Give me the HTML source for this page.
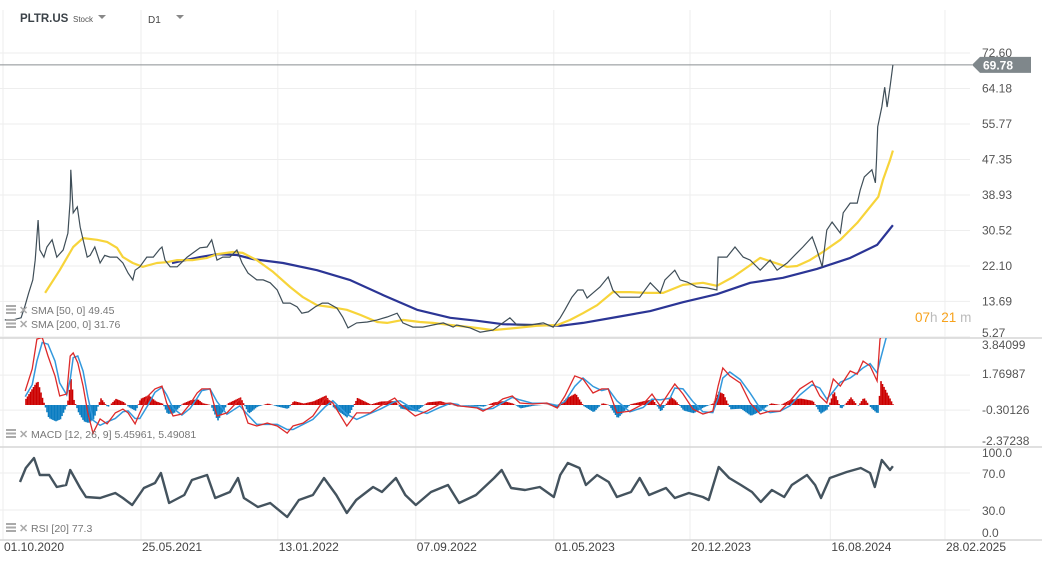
<!DOCTYPE html>
<html><head><meta charset="utf-8"><style>
html,body{margin:0;padding:0;background:#fff;}
body{width:1042px;height:563px;overflow:hidden;font-family:"Liberation Sans",sans-serif;}
svg text{font-family:"Liberation Sans",sans-serif;}
</style></head><body>
<svg id="chart" width="1042" height="563" viewBox="0 0 1042 563" xmlns="http://www.w3.org/2000/svg">
<g id="grid"></g>
<g id="header">
  <text x="20" y="22" font-size="11.5" font-weight="bold" fill="#3b4248">PLTR.US</text>
  <text x="73" y="22" font-size="8" fill="#555">Stock</text>
  <path d="M98 15 L106 15 L102 19 Z" fill="#888"/>
  <text x="148" y="23" font-size="10" fill="#444">D1</text>
  <path d="M176 15 L184 15 L180 19 Z" fill="#888"/>
</g>
<g id="main"></g>
<g id="macd"></g>
<g id="rsi"></g>
<g id="axes"></g>
</svg>
<script>
// ---- data (day offsets from 01.10.2020) ----
const priceDays=[3,17,31,38,44,51,55,58,60,63,70,75,84,92,103,111,115,116,120,127,132,137,144,149,157,166,174,183,195,205,214,222,226,234,246,257,268,272,277,286,298,315,325,337,349,357,366,376,388,400,409,419,434,445,457,469,479,491,503,511,522,534,546,556,571,581,590,605,623,640,657,674,684,701,718,735,753,770,776,799,816,838,855,867,879,901,924,941,953,961,973,983,992,999,1009,1021,1035,1043,1055,1072,1089,1107,1124,1132,1149,1158,1170,1187,1204,1221,1223,1238,1252,1266,1278,1295,1312,1324,1341,1358,1368,1384,1392,1401,1409,1418,1432,1437,1449,1461,1466,1473,1486,1492,1494,1496,1503,1508,1512,1517,1522];
const priceVals=[9.3,9.3,9.8,12.8,15.7,18.8,23.5,29.0,33.0,25.9,24.2,26.6,28.3,24.2,25.9,29.9,37.7,44.9,34.7,36.1,31.3,28.3,24.2,24.6,26.6,22.8,24.6,24.2,24.2,22.8,20.4,18.8,21.1,21.9,24.2,24.2,26.1,26.6,23.5,21.9,21.9,24.2,25.2,26.4,26.6,28.3,23.5,24.2,24.2,25.9,22.8,20.4,18.8,18.8,18.1,16.4,13.3,13.3,12.4,10.9,11.2,12.4,13.3,13.3,12.1,10.0,7.4,8.6,8.8,9.3,10.0,10.9,8.6,7.6,7.6,8.1,8.6,7.6,8.1,7.4,6.4,6.9,8.6,9.8,8.1,8.1,8.6,7.6,9.8,11.7,14.7,16.4,16.4,14.5,15.7,17.1,19.5,16.4,14.7,14.7,14.7,18.1,15.7,18.8,21.1,18.8,18.3,17.1,16.9,16.4,24.2,24.2,26.6,24.2,23.5,21.1,23.5,21.1,22.8,25.2,26.6,29.0,25.9,21.9,30.6,32.5,29.9,34.7,37.0,37.0,40.1,43.2,44.9,41.8,47.2,55.1,59.8,64.5,59.8,64.5,69.78];
const sma50Days=[72,97,120,137,161,178,195,205,222,239,263,280,298,325,349,366,393,410,434,462,491,513,537,559,588,611,640,657,684,713,735,765,799,838,879,913,948,970,992,1016,1043,1072,1101,1129,1163,1197,1221,1249,1278,1295,1317,1341,1358,1380,1402,1432,1461,1483,1497,1505,1517,1522];
const sma50Vals=[15.7,21.1,26.6,28.7,28.3,27.8,26.4,24.2,22.8,21.9,22.8,23.0,23.5,23.5,24.0,24.9,25.4,25.2,23.5,20.7,17.1,14.7,12.8,12.4,11.7,10.5,8.8,8.6,9.3,8.8,8.6,8.1,7.6,6.9,7.4,7.9,8.1,9.3,10.9,12.8,15.9,15.9,15.7,15.7,17.6,18.1,17.4,19.5,22.3,24.0,23.0,21.9,22.1,23.5,25.4,28.3,32.3,36.1,38.5,42.5,47.2,49.45];
const sma200Days=[289,337,366,400,428,479,537,593,650,708,765,811,855,907,953,992,1050,1107,1163,1221,1278,1334,1392,1449,1495,1522];
const sma200Vals=[22.8,24.2,24.9,24.7,23.7,22.8,21.1,18.8,15.2,11.7,9.8,9.1,8.3,8.1,7.9,8.6,10.0,11.4,13.5,15.4,18.1,19.3,21.4,24.0,27.1,31.76];
const macdDays=[38,50,58,67,77,89,97,109,115,120,128,137,145,154,166,178,192,205,214,226,234,248,260,272,280,291,306,320,332,340,354,366,383,405,419,434,452,469,486,496,513,530,551,564,588,605,628,645,670,679,705,725,747,765,778,782,811,821,838,855,871,884,906,930,948,961,978,992,1009,1024,1035,1050,1072,1095,1110,1124,1141,1149,1163,1180,1197,1214,1223,1231,1243,1261,1278,1295,1312,1329,1346,1363,1384,1397,1409,1420,1432,1449,1461,1471,1483,1495,1500,1522];
const macdVals=[0.83,2.13,3.9,4.0,2.9,1.72,0.53,0.65,2.9,3.08,2.49,1.12,-0.47,-1.66,-0.83,-1.12,-0.47,-0.24,-0.47,-1.12,-0.47,0.53,0.95,1.12,0.12,-0.65,-0.53,0.06,0.71,0.95,0.95,-0.65,-0.47,0.36,-1.07,-1.24,-1.07,-1.24,-1.66,-1.24,-1.07,-0.65,0.41,0.12,-1.24,-0.47,-0.47,-0.06,0.41,0.06,-0.65,-0.36,0.06,0.12,-0.06,-0.06,-0.18,-0.36,-0.06,0.36,0.53,0.12,0.06,0.12,-0.18,0.53,1.72,1.54,0.71,0.95,0.95,-0.47,-0.36,0.06,0.65,-0.06,0.83,1.24,0.65,-0.24,-0.53,-0.36,1.12,2.19,1.72,1.30,0.12,-0.53,-0.36,-0.36,0.24,0.95,1.42,0.53,0.12,1.54,1.12,2.01,1.83,2.6,2.31,1.42,3.9,5.46];
const signalVals=[0.5,1.2,2.6,3.7,3.6,2.6,1.3,0.6,1.5,2.8,2.9,2.0,0.5,-0.9,-1.2,-1.0,-0.8,-0.4,-0.35,-0.8,-0.8,0.0,0.75,1.05,0.6,-0.2,-0.6,-0.2,0.4,0.85,0.95,0.2,-0.55,-0.05,-0.6,-1.15,-1.15,-1.15,-1.45,-1.45,-1.15,-0.85,-0.1,0.25,-0.55,-0.85,-0.5,-0.25,0.2,0.25,-0.3,-0.5,-0.15,0.1,0.03,-0.06,-0.12,-0.27,-0.2,0.15,0.45,0.3,0.1,0.1,-0.03,0.2,1.1,1.6,1.1,0.85,0.95,0.25,-0.4,-0.15,0.35,0.3,0.4,1.0,0.95,0.2,-0.4,-0.45,0.4,1.6,1.95,1.5,0.7,-0.2,-0.45,-0.36,-0.05,0.6,1.2,1.0,0.35,0.8,1.35,1.6,1.9,2.2,2.45,1.9,2.6,5.49];
const rsiDays=[29,39,53,63,79,92,108,115,132,142,166,192,205,221,241,260,270,284,310,323,349,363,388,402,412,436,457,486,506,530,549,570,588,604,633,648,672,688,706,732,761,780,809,840,853,869,893,918,942,953,966,986,997,1016,1036,1050,1074,1089,1105,1134,1149,1173,1197,1207,1224,1242,1262,1281,1296,1315,1336,1349,1375,1389,1399,1414,1443,1467,1483,1491,1503,1517,1522];
const rsiVals=[60.3,75.4,86.2,67.8,67.8,54.9,57.0,73.2,53.8,44.1,43.0,48.4,43.0,35.4,53.8,59.2,70.0,37.6,46.2,62.4,67.8,43.0,49.5,64.6,43.0,33.2,37.6,22.4,40.8,46.2,64.6,46.2,26.8,40.8,54.9,49.5,64.6,46.2,35.4,49.5,57.0,37.6,46.2,64.6,73.2,53.8,51.6,54.9,44.1,67.8,80.8,75.4,57.0,67.8,60.3,44.1,49.5,64.6,46.2,53.8,43.0,48.4,44.1,40.8,76.5,64.6,57.0,49.5,38.7,51.6,44.1,57.0,67.8,57.0,43.0,64.6,71.1,75.4,70.0,54.9,84.1,73.2,77.3];
const priceTicks=["72.60","64.18","55.77","47.35","38.93","30.52","22.10","13.69","5.27"];
const macdTicks=["3.84099","1.76987","-0.30126","-2.37238"];
const rsiTicks=["100.0","70.0","30.0","0.0"];
const dateTicks=["01.10.2020","25.05.2021","13.01.2022","07.09.2022","01.05.2023","20.12.2023","16.08.2024","28.02.2025"];
const dateTickDays=[0,236,470,706,942,1175,1415,1611];

// ---- axis functions ----
const X=d=>3+d*0.5847;
const PY=v=>53+(72.6-v)*4.217;
const MY=v=>405-v*16.9;
const RY=v=>510-(v-30)*0.925;
const NS='http://www.w3.org/2000/svg';
function mk(tag,attrs,parent){const e=document.createElementNS(NS,tag);for(const k in attrs)e.setAttribute(k,attrs[k]);parent.appendChild(e);return e;}
function pts(days,vals,fy){return days.map((d,i)=>X(d).toFixed(1)+','+fy(vals[i]).toFixed(1)).join(' ');}
const grid=document.getElementById('grid'),main=document.getElementById('main'),macdG=document.getElementById('macd'),rsiG=document.getElementById('rsi'),axes=document.getElementById('axes');

// grid
dateTickDays.forEach(d=>{const l=mk('line',{x1:X(d),x2:X(d),y1:10,y2:540,stroke:'#eeeeee','stroke-width':1},grid);

});
priceTicks.forEach(t=>{const y=PY(parseFloat(t));const l=mk('line',{x1:0,x2:970,y1:y,y2:y,stroke:'#eeeeee'},grid);

});
[1.76987,-0.30126].forEach(v=>{const l=mk('line',{x1:0,x2:970,y1:MY(v),y2:MY(v),stroke:'#eeeeee'},grid);

});
[70,30].forEach(v=>{const l=mk('line',{x1:0,x2:970,y1:RY(v),y2:RY(v),stroke:'#eeeeee'},grid);

});
[338,447,540].forEach(y=>{const l=mk('line',{x1:0,x2:1042,y1:y,y2:y,stroke:'#d6d6d6','stroke-width':1.5},grid);

});

// clip paths
const defs=mk('defs',{},document.getElementById('chart'));
const c1=mk('clipPath',{id:'cm'},defs);mk('rect',{x:0,y:338,width:970,height:109},c1);

// price panel
const cur=priceVals[priceVals.length-1];
const cl=mk('line',{x1:0,x2:972,y1:PY(cur),y2:PY(cur),stroke:'#8a8f92','stroke-width':1},main);


const s200=mk('polyline',{points:pts(sma200Days,sma200Vals,PY),fill:'none',stroke:'#2b3595','stroke-width':2.2,'stroke-linejoin':'round'},main);


const s50=mk('polyline',{points:pts(sma50Days,sma50Vals,PY),fill:'none',stroke:'#f7d43a','stroke-width':2.2,'stroke-linejoin':'round'},main);


const pl=mk('polyline',{points:pts(priceDays,priceVals,PY),fill:'none',stroke:'#3f4e58','stroke-width':1.2,'stroke-linejoin':'miter'},main);


const tag=mk('path',{d:`M972 ${PY(cur)} L980 ${PY(cur)-8} L1031 ${PY(cur)-8} L1031 ${PY(cur)+8} L980 ${PY(cur)+8} Z`,fill:'#7f878b'},main);


const tt=mk('text',{x:983,y:PY(cur)+4.5,'font-size':12,'font-weight':'bold',fill:'#fff'},main);tt.textContent=cur.toFixed(2);



// MACD panel
const mg=mk('g',{'clip-path':'url(#cm)'},macdG);
for(let px=X(macdDays[0]);px<=X(macdDays[macdDays.length-1]);px+=1.5){
  const d=(px-3)/0.5847;let i=0;while(i<macdDays.length-2&&macdDays[i+1]<d)i++;
  const f=(d-macdDays[i])/(macdDays[i+1]-macdDays[i]);
  const m=macdVals[i]+f*(macdVals[i+1]-macdVals[i]);const s=signalVals[i]+f*(signalVals[i+1]-signalVals[i]);
  const h=(m-s)*1.1;const y0=MY(0),y1=MY(h);
  const b=mk('rect',{x:px,y:Math.min(y0,y1),width:1.6,height:Math.abs(y1-y0),fill:h>=0?'#cc0000':'#0a7cc1'},mg);
  
  
}
const sl=mk('polyline',{points:pts(macdDays,signalVals,MY),fill:'none',stroke:'#3399dd','stroke-width':1.5},mg);


const ml=mk('polyline',{points:pts(macdDays,macdVals,MY),fill:'none',stroke:'#dd2a2a','stroke-width':1.3},mg);



// RSI panel
const rl=mk('polyline',{points:pts(rsiDays,rsiVals,RY),fill:'none',stroke:'#44535e','stroke-width':2.4,'stroke-linejoin':'round'},rsiG);



// axis labels
function lbl(txt,x,y,size,fill,name,anchor){const t=mk('text',{x:x,y:y,'font-size':size,fill:fill,'text-anchor':anchor||'start'},axes);t.textContent=txt;

return t;}
priceTicks.forEach(t=>{const v=parseFloat(t);let y=PY(v)+4;if(v<6)y=337;lbl(t,982,y,12,'#555','price-tick-label');});
const mpos=[345,374,410,441];macdTicks.forEach((t,i)=>lbl(t,982,mpos[i]+4,12,'#555','macd-tick-label'));
const rpos=[453,474,511,533];rsiTicks.forEach((t,i)=>lbl(t,982,rpos[i]+4,12,'#555','rsi-tick-label'));
dateTickDays.forEach((d,i)=>lbl(dateTicks[i],X(d)+1,551,12,'#444','date-tick-label'));

// legends
function legend(txt,y,name){
  const g=mk('g',{},axes);
  
  
  mk('rect',{x:6,y:y-8,width:10,height:2,fill:'#aaa'},g);mk('rect',{x:6,y:y-4.5,width:10,height:2,fill:'#aaa'},g);mk('rect',{x:6,y:y-1,width:10,height:2,fill:'#aaa'},g);
  const t=mk('text',{x:19,y:y+1,'font-size':11,'font-weight':'bold',fill:'#aaa'},g);t.textContent='✕';
  const tx=mk('text',{x:31,y:y+1,'font-size':10.5,fill:'#777'},g);tx.textContent=txt;
}
legend('SMA  [50,  0]  49.45',313,'sma50-legend');
legend('SMA  [200,  0]  31.76',327,'sma200-legend');
legend('MACD  [12,  26,  9]  5.45961,   5.49081',437,'macd-legend');
legend('RSI  [20]  77.3',531,'rsi-legend');
const cd=mk('text',{x:915,y:322,'font-size':13.5},axes);


cd.innerHTML='<tspan fill="#f7a21b">07</tspan><tspan fill="#bbb">h </tspan><tspan fill="#f7a21b">21</tspan><tspan fill="#bbb"> m</tspan>';
</script>
</body></html>
